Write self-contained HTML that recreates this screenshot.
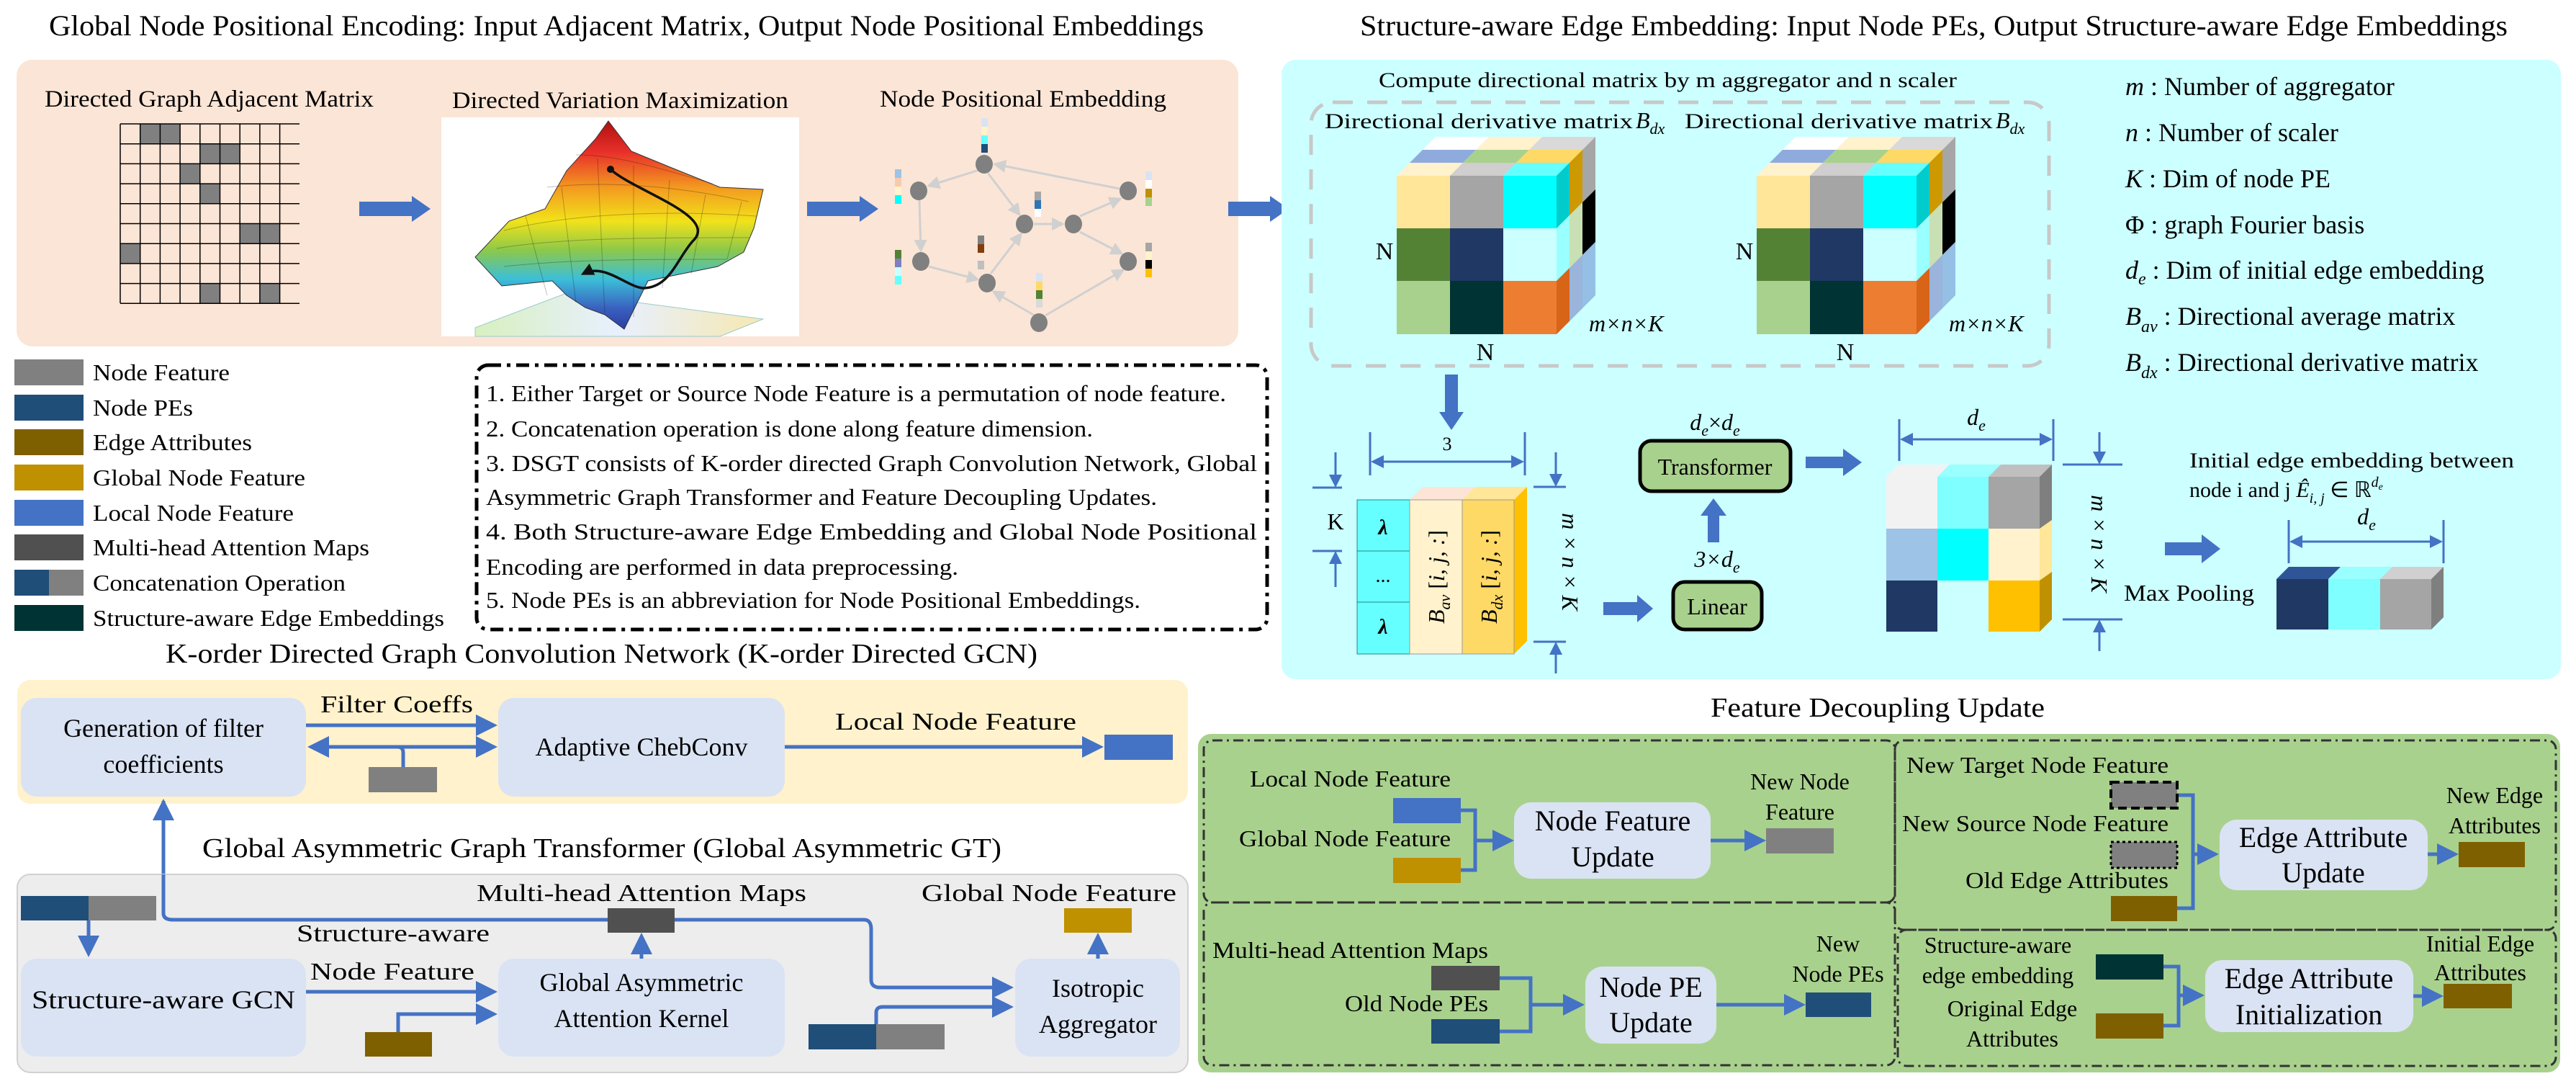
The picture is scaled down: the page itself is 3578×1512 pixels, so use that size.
<!DOCTYPE html>
<html><head><meta charset="utf-8"><style>
html,body{margin:0;padding:0;background:#fff}
svg{display:block}
text{font-family:"Liberation Serif",serif;fill:#000}
</style></head><body>
<svg width="3578" height="1512" viewBox="0 0 3578 1512" xmlns="http://www.w3.org/2000/svg">
<defs>
<marker id="ah" markerWidth="6" markerHeight="6" refX="5" refY="3" orient="auto" markerUnits="strokeWidth"><path d="M0,0 L6,3 L0,6 z" fill="#4472c4"/></marker>
<marker id="ahs" markerWidth="6" markerHeight="6" refX="5" refY="3" orient="auto-start-reverse" markerUnits="strokeWidth"><path d="M0,0 L6,3 L0,6 z" fill="#4472c4"/></marker>
<marker id="ag" markerWidth="6" markerHeight="6" refX="5" refY="3" orient="auto" markerUnits="strokeWidth"><path d="M0,0 L6,3 L0,6 z" fill="#d0d0d0"/></marker>
<marker id="ak" markerWidth="5" markerHeight="5" refX="4" refY="2.5" orient="auto" markerUnits="strokeWidth"><path d="M0,0 L5,2.5 L0,5 z" fill="#111"/></marker>
<linearGradient id="surf" x1="0" y1="0" x2="0" y2="1">
<stop offset="0" stop-color="#b01010"/><stop offset="0.15" stop-color="#e8302a"/><stop offset="0.32" stop-color="#f39a20"/><stop offset="0.48" stop-color="#f2e21a"/><stop offset="0.62" stop-color="#8dc84a"/><stop offset="0.76" stop-color="#3cbfd8"/><stop offset="0.9" stop-color="#3a60c0"/><stop offset="1" stop-color="#2a3fa0"/></linearGradient>
<linearGradient id="base" x1="0" y1="0" x2="1" y2="0"><stop offset="0" stop-color="#d8f0c0"/><stop offset="0.5" stop-color="#e8f0ff"/><stop offset="1" stop-color="#f6e8b0"/></linearGradient>
<g id="cube">
<!-- top face layers -->
<polygon points="1940,244 2014,244 2032,226 1958,226" fill="#fff2cc"/>
<polygon points="2014,244 2088,244 2106,226 2032,226" fill="#d0cece"/>
<polygon points="2088,244 2162,244 2180,226 2106,226" fill="#66ffff"/>
<polygon points="1958,226 2032,226 2050,208 1976,208" fill="#8faadc"/>
<polygon points="2032,226 2106,226 2124,208 2050,208" fill="#a9d18e"/>
<polygon points="2106,226 2180,226 2198,208 2124,208" fill="#ffd966"/>
<polygon points="1976,208 2050,208 2068,190 1994,190" fill="#ffffff"/>
<polygon points="2050,208 2124,208 2142,190 2068,190" fill="#fff2cc"/>
<polygon points="2124,208 2198,208 2216,190 2142,190" fill="#d9d9d9"/>
<!-- side -->
<polygon points="2162,244 2180,226 2180,299 2162,317" fill="#00cccc"/>
<polygon points="2162,317 2180,299 2180,372 2162,390" fill="#99ffff"/>
<polygon points="2162,390 2180,372 2180,446 2162,464" fill="#d86418"/>
<polygon points="2180,226 2198,208 2198,281 2180,299" fill="#cc9900"/>
<polygon points="2180,299 2198,281 2198,354 2180,372" fill="#c9dfb4"/>
<polygon points="2180,372 2198,354 2198,428 2180,446" fill="#9ab4dc"/>
<polygon points="2198,208 2216,190 2216,263 2198,281" fill="#a6a6a6"/>
<polygon points="2198,281 2216,263 2216,336 2198,354" fill="#000000"/>
<polygon points="2198,354 2216,336 2216,410 2198,428" fill="#95bfe4"/>
<!-- front -->
<rect x="1940" y="244" width="74" height="74" fill="#ffe699"/>
<rect x="2014" y="244" width="74" height="74" fill="#a5a5a5"/>
<rect x="2088" y="244" width="74" height="74" fill="#00ffff"/>
<rect x="1940" y="317" width="74" height="74" fill="#548235"/>
<rect x="2014" y="317" width="74" height="74" fill="#203864"/>
<rect x="2088" y="317" width="74" height="74" fill="#ccffff"/>
<rect x="1940" y="390" width="74" height="74" fill="#a9d18e"/>
<rect x="2014" y="390" width="74" height="74" fill="#003333"/>
<rect x="2088" y="390" width="74" height="74" fill="#ed7d31"/>
<text x="1923" y="360" font-size="34" text-anchor="middle">N</text>
<text x="2063" y="500" font-size="34" text-anchor="middle">N</text>
<text x="2207" y="460" font-size="32" font-style="italic">m×n×K</text>
</g>
</defs>

<!-- ============ TOP LEFT ============ -->
<text x="68" y="49" font-size="40" textLength="1604" lengthAdjust="spacingAndGlyphs">Global Node Positional Encoding: Input Adjacent Matrix, Output Node Positional Embeddings</text>
<rect x="23" y="83" width="1697" height="398" rx="22" fill="#fbe5d6"/>
<text x="62" y="148" font-size="33" textLength="457" lengthAdjust="spacingAndGlyphs">Directed Graph Adjacent Matrix</text>
<text x="628" y="150" font-size="33" textLength="467" lengthAdjust="spacingAndGlyphs">Directed Variation Maximization</text>
<text x="1222" y="148" font-size="33" textLength="398" lengthAdjust="spacingAndGlyphs">Node Positional Embedding</text>

<!-- grid -->
<g fill="#808080">
<rect x="194.7" y="172" width="55.4" height="27.7"/>
<rect x="277.8" y="199.7" width="55.4" height="27.7"/>
<rect x="250.1" y="227.4" width="27.7" height="27.7"/>
<rect x="277.8" y="255.1" width="27.7" height="27.7"/>
<rect x="333.2" y="310.5" width="55.4" height="27.7"/>
<rect x="167" y="338.2" width="27.7" height="27.7"/>
<rect x="277.8" y="393.6" width="27.7" height="27.7"/>
<rect x="360.9" y="393.6" width="27.7" height="27.7"/>
</g>
<g stroke="#000" stroke-width="1.5">
<path d="M167,172V421M194.7,172V421M222.4,172V421M250.1,172V421M277.8,172V421M305.5,172V421M333.2,172V421M360.9,172V421M388.6,172V421"/>
<path d="M167,172H416M167,199.7H416M167,227.4H416M167,255.1H416M167,282.8H416M167,310.5H416M167,338.2H416M167,365.9H416M167,393.6H416M167,421.3H416"/>
</g>

<!-- block arrows -->
<polygon points="499,280 572,280 572,272 598,290 572,308 572,300 499,300" fill="#4472c4"/>
<polygon points="1121,280 1194,280 1194,272 1220,290 1194,308 1194,300 1121,300" fill="#4472c4"/>
<polygon points="1706,280 1764,280 1764,272 1790,290 1764,308 1764,300 1706,300" fill="#4472c4"/>

<!-- surface plot -->
<rect x="613" y="163" width="497" height="304" fill="#fff"/>
<polygon points="660,455 787,407 1060,443 1000,467 660,467" fill="url(#base)" stroke="#9cc" stroke-width="1"/>
<polygon points="845,168 877,210 933,233 1000,260 1060,263 1047,317 1033,350 997,370 933,383 900,390 867,457 840,437 813,427 787,410 767,390 697,397 660,357 707,307 757,290 787,237 827,193" fill="url(#surf)" stroke="#333" stroke-width="1"/>
<g stroke="#000" stroke-opacity="0.25" stroke-width="1" fill="none">
<path d="M700,320 C780,300 900,290 1050,300M690,345 C780,330 900,330 1040,330M700,370 C790,360 900,360 1010,360M760,260 C850,250 950,260 1040,280M800,215 C860,215 920,235 990,255"/>
<path d="M730,300 L760,410M780,260 L800,420M830,220 L840,435M880,230 L880,440M930,250 L920,400M980,270 L960,380M1030,280 L1010,360"/>
</g>
<path d="M848,235 C880,265 1000,300 962,335 C940,360 930,400 893,400 C870,398 840,365 810,380" fill="none" stroke="#111" stroke-width="3.5" marker-end="url(#ak)"/>
<circle cx="848" cy="235" r="5" fill="#111"/>

<!-- graph -->
<g stroke="#d0d0d0" stroke-width="3" fill="none">
<line x1="1360" y1="236" x2="1290" y2="258" marker-end="url(#ag)"/>
<line x1="1555" y1="262" x2="1382" y2="228" marker-end="url(#ag)"/>
<line x1="1372" y1="240" x2="1416" y2="298" marker-end="url(#ag)"/>
<line x1="1436" y1="311" x2="1476" y2="311" marker-end="url(#ag)"/>
<line x1="1500" y1="300" x2="1556" y2="276" marker-end="url(#ag)"/>
<line x1="1277" y1="278" x2="1279" y2="348" marker-end="url(#ag)"/>
<line x1="1290" y1="370" x2="1358" y2="388" marker-end="url(#ag)"/>
<line x1="1376" y1="380" x2="1418" y2="325" marker-end="url(#ag)"/>
<line x1="1500" y1="322" x2="1558" y2="352" marker-end="url(#ag)"/>
<line x1="1437" y1="438" x2="1380" y2="405" marker-end="url(#ag)"/>
<line x1="1452" y1="438" x2="1560" y2="375" marker-end="url(#ag)"/>
</g>
<g fill="#808080">
<ellipse cx="1367" cy="228" rx="12" ry="13"/><ellipse cx="1276" cy="265" rx="12" ry="13"/><ellipse cx="1567" cy="265" rx="12" ry="13"/>
<ellipse cx="1423" cy="311" rx="12" ry="13"/><ellipse cx="1491" cy="311" rx="12" ry="13"/><ellipse cx="1279" cy="363" rx="12" ry="13"/>
<ellipse cx="1567" cy="363" rx="12" ry="13"/><ellipse cx="1371" cy="393" rx="12" ry="13"/><ellipse cx="1443" cy="448" rx="12" ry="13"/>
</g>
<g>
<rect x="1363" y="164" width="9" height="12" fill="#dae3f3"/><rect x="1363" y="176" width="9" height="12" fill="#fff2cc"/><rect x="1363" y="188" width="9" height="12" fill="#66ffff"/><rect x="1363" y="200" width="9" height="12" fill="#1f4e79"/>
<rect x="1243" y="235" width="9" height="12" fill="#9dc3e6"/><rect x="1243" y="247" width="9" height="12" fill="#f8cbad"/><rect x="1243" y="259" width="9" height="12" fill="#fff2cc"/><rect x="1243" y="271" width="9" height="12" fill="#00ffff"/>
<rect x="1591" y="238" width="9" height="12" fill="#dae3f3"/><rect x="1591" y="250" width="9" height="12" fill="#fff"/><rect x="1591" y="262" width="9" height="12" fill="#bf9000"/><rect x="1591" y="274" width="9" height="12" fill="#a9d18e"/>
<rect x="1437" y="266" width="9" height="12" fill="#a5a5a5"/><rect x="1437" y="278" width="9" height="12" fill="#2e75b6"/><rect x="1437" y="290" width="9" height="11" fill="#fff"/>
<rect x="1358" y="327" width="9" height="12" fill="#808080"/><rect x="1358" y="339" width="9" height="12" fill="#843c0c"/><rect x="1358" y="362" width="9" height="12" fill="#bfbfbf"/>
<rect x="1243" y="347" width="9" height="12" fill="#548235"/><rect x="1243" y="359" width="9" height="12" fill="#7f7fbf"/><rect x="1243" y="371" width="9" height="12" fill="#ccffff"/><rect x="1243" y="383" width="9" height="12" fill="#66ffff"/>
<rect x="1591" y="337" width="9" height="12" fill="#a5a5a5"/><rect x="1591" y="349" width="9" height="12" fill="#fff2cc"/><rect x="1591" y="361" width="9" height="12" fill="#000"/><rect x="1591" y="373" width="9" height="12" fill="#ffc000"/>
<rect x="1439" y="379" width="9" height="12" fill="#dae3f3"/><rect x="1439" y="391" width="9" height="12" fill="#ffd966"/><rect x="1439" y="403" width="9" height="12" fill="#548235"/><rect x="1439" y="415" width="9" height="12" fill="#d9d9d9"/>
</g>

<!-- legend -->
<g>
<rect x="20" y="499" width="96" height="36" fill="#808080"/>
<rect x="20" y="548" width="96" height="36" fill="#1f4e79"/>
<rect x="20" y="596" width="96" height="36" fill="#7f6000"/>
<rect x="20" y="645" width="96" height="36" fill="#bf9000"/>
<rect x="20" y="694" width="96" height="36" fill="#4472c4"/>
<rect x="20" y="742" width="96" height="36" fill="#505050"/>
<rect x="20" y="791" width="48" height="36" fill="#1f4e79"/><rect x="68" y="791" width="48" height="36" fill="#808080"/>
<rect x="20" y="840" width="96" height="36" fill="#003333"/>
</g>
<g font-size="32">
<text x="129" y="528" textLength="190" lengthAdjust="spacingAndGlyphs">Node Feature</text>
<text x="129" y="577" textLength="139" lengthAdjust="spacingAndGlyphs">Node PEs</text>
<text x="129" y="625" textLength="221" lengthAdjust="spacingAndGlyphs">Edge Attributes</text>
<text x="129" y="674" textLength="295" lengthAdjust="spacingAndGlyphs">Global Node Feature</text>
<text x="129" y="723" textLength="279" lengthAdjust="spacingAndGlyphs">Local Node Feature</text>
<text x="129" y="771" textLength="384" lengthAdjust="spacingAndGlyphs">Multi-head Attention Maps</text>
<text x="129" y="820" textLength="351" lengthAdjust="spacingAndGlyphs">Concatenation Operation</text>
<text x="129" y="869" textLength="488" lengthAdjust="spacingAndGlyphs">Structure-aware Edge Embeddings</text>
</g>

<!-- notes -->
<rect x="662" y="507" width="1098" height="367" rx="16" fill="none" stroke="#000" stroke-width="5" stroke-dasharray="18 8 5 8"/>
<g font-size="32">
<text x="675" y="557" textLength="1028" lengthAdjust="spacingAndGlyphs">1. Either Target or Source Node Feature is a permutation of node feature.</text>
<text x="675" y="606" textLength="843" lengthAdjust="spacingAndGlyphs">2. Concatenation operation is done along feature dimension.</text>
<text x="675" y="654" textLength="1071" lengthAdjust="spacingAndGlyphs">3. DSGT consists of K-order directed Graph Convolution Network, Global</text>
<text x="675" y="701" textLength="932" lengthAdjust="spacingAndGlyphs">Asymmetric Graph Transformer and Feature Decoupling Updates.</text>
<text x="675" y="749" textLength="1071" lengthAdjust="spacingAndGlyphs">4. Both Structure-aware Edge Embedding and Global Node Positional</text>
<text x="675" y="798" textLength="656" lengthAdjust="spacingAndGlyphs">Encoding are performed in data preprocessing.</text>
<text x="675" y="844" textLength="909" lengthAdjust="spacingAndGlyphs">5. Node PEs is an abbreviation for Node Positional Embeddings.</text>
</g>

<!-- ============ TOP RIGHT ============ -->
<text x="1889" y="49" font-size="40" textLength="1594" lengthAdjust="spacingAndGlyphs">Structure-aware Edge Embedding: Input Node PEs, Output Structure-aware Edge Embeddings</text>
<rect x="1780" y="83" width="1777" height="860" rx="20" fill="#ccffff"/>
<text x="1915" y="121" font-size="30" textLength="803" lengthAdjust="spacingAndGlyphs">Compute directional matrix by m aggregator and n scaler</text>
<rect x="1821" y="142" width="1025" height="366" rx="30" fill="none" stroke="#c8c8c8" stroke-width="5" stroke-dasharray="28 20"/>
<text x="1840" y="178" font-size="30" textLength="428" lengthAdjust="spacingAndGlyphs">Directional derivative matrix </text>
<text x="2272" y="178" font-size="32" font-style="italic">B<tspan font-size="22" dy="8">dx</tspan></text>
<text x="2340" y="178" font-size="30" textLength="428" lengthAdjust="spacingAndGlyphs">Directional derivative matrix </text>
<text x="2772" y="178" font-size="32" font-style="italic">B<tspan font-size="22" dy="8">dx</tspan></text>
<use href="#cube"/>
<use href="#cube" x="500"/>

<!-- variable legend -->
<g font-size="36">
<text x="2952" y="132"><tspan font-style="italic">m</tspan> : Number of aggregator</text>
<text x="2952" y="196"><tspan font-style="italic">n</tspan> : Number of scaler</text>
<text x="2952" y="260"><tspan font-style="italic">K</tspan> : Dim of node PE</text>
<text x="2952" y="324">Φ : graph Fourier basis</text>
<text x="2952" y="387"><tspan font-style="italic">d</tspan><tspan font-style="italic" font-size="24" dy="8">e</tspan><tspan dy="-8"> : Dim of initial edge embedding</tspan></text>
<text x="2952" y="451"><tspan font-style="italic">B</tspan><tspan font-style="italic" font-size="24" dy="10">av</tspan><tspan dy="-10"> : Directional average matrix</tspan></text>
<text x="2952" y="515"><tspan font-style="italic">B</tspan><tspan font-style="italic" font-size="24" dy="10">dx</tspan><tspan dy="-10"> : Directional derivative matrix</tspan></text>
</g>

<!-- down arrow -->
<polygon points="2007,520 2025,520 2025,572 2033,572 2016,597 1999,572 2007,572" fill="#4472c4"/>

<!-- small matrix -->
<g stroke="#4472c4" stroke-width="3" fill="none">
<line x1="1903" y1="600" x2="1903" y2="660"/><line x1="2118" y1="600" x2="2118" y2="660"/>
<line x1="1907" y1="641" x2="2114" y2="641" marker-start="url(#ahs)" marker-end="url(#ah)"/>
<line x1="1823" y1="677" x2="1864" y2="677"/><line x1="1823" y1="765" x2="1864" y2="765"/>
<line x1="1855" y1="628" x2="1855" y2="674" marker-end="url(#ah)"/>
<line x1="1855" y1="815" x2="1855" y2="768" marker-end="url(#ah)"/>
<line x1="2130" y1="676" x2="2175" y2="676"/><line x1="2130" y1="891" x2="2175" y2="891"/>
<line x1="2161" y1="628" x2="2161" y2="673" marker-end="url(#ah)"/>
<line x1="2161" y1="935" x2="2161" y2="894" marker-end="url(#ah)"/>
</g>
<text x="2010" y="625" font-size="26" text-anchor="middle">3</text>
<text x="1855" y="735" font-size="32" text-anchor="middle">K</text>
<polygon points="1885,694 1958,694 1976,676 1903,676" fill="#ccffff"/>
<polygon points="1958,694 2031,694 2049,676 1976,676" fill="#fce4d6"/>
<polygon points="2031,694 2103,694 2121,676 2049,676" fill="#ffe699"/>
<polygon points="2103,694 2121,676 2121,890 2103,908" fill="#ffc000"/>
<rect x="1885" y="694" width="73" height="214" fill="#66ffff" stroke="#1a8a8a" stroke-width="1"/>
<line x1="1885" y1="765" x2="1958" y2="765" stroke="#1a8a8a" stroke-width="1"/><line x1="1885" y1="836" x2="1958" y2="836" stroke="#1a8a8a" stroke-width="1"/>
<rect x="1958" y="694" width="73" height="214" fill="#fff2cc" stroke="#999" stroke-width="1"/>
<rect x="2031" y="694" width="72" height="214" fill="#ffd966" stroke="#999" stroke-width="1"/>
<text x="1921" y="742" font-size="30" text-anchor="middle" font-style="italic" font-weight="bold">λ</text>
<text x="1921" y="808" font-size="28" text-anchor="middle">...</text>
<text x="1921" y="880" font-size="30" text-anchor="middle" font-style="italic" font-weight="bold">λ</text>
<text transform="translate(2006,801) rotate(-90)" font-size="32" text-anchor="middle" font-style="italic">B<tspan font-size="22" dy="8">av</tspan><tspan dy="-8" font-style="normal"> [</tspan>i, j, :<tspan font-style="normal">]</tspan></text>
<text transform="translate(2079,801) rotate(-90)" font-size="32" text-anchor="middle" font-style="italic">B<tspan font-size="22" dy="8">dx</tspan><tspan dy="-8" font-style="normal"> [</tspan>i, j, :<tspan font-style="normal">]</tspan></text>
<text transform="translate(2170,780) rotate(90)" font-size="32" text-anchor="middle" font-style="italic">m × n × K</text>

<polygon points="2227,836 2274,836 2274,826 2296,845 2274,864 2274,854 2227,854" fill="#4472c4"/>
<rect x="2324" y="808" width="123" height="66" rx="16" fill="#a9d18e" stroke="#000" stroke-width="5"/>
<text x="2385" y="853" font-size="32" text-anchor="middle">Linear</text>
<text x="2385" y="787" font-size="32" text-anchor="middle" font-style="italic">3×d<tspan font-size="22" dy="8">e</tspan></text>
<polygon points="2372,753 2388,753 2388,716 2398,716 2380,692 2362,716 2372,716" fill="#4472c4"/>
<rect x="2278" y="612" width="209" height="70" rx="16" fill="#a9d18e" stroke="#000" stroke-width="5"/>
<text x="2382" y="659" font-size="32" text-anchor="middle">Transformer</text>
<text x="2382" y="597" font-size="32" text-anchor="middle" font-style="italic">d<tspan font-size="22" dy="8">e</tspan><tspan dy="-8" font-style="normal">×</tspan>d<tspan font-size="22" dy="8">e</tspan></text>
<polygon points="2508,634 2560,634 2560,623 2586,642 2560,661 2560,650 2508,650" fill="#4472c4"/>

<!-- big matrix -->
<g stroke="#4472c4" stroke-width="3" fill="none">
<line x1="2638" y1="582" x2="2638" y2="640"/><line x1="2852" y1="582" x2="2852" y2="640"/>
<line x1="2642" y1="610" x2="2848" y2="610" marker-start="url(#ahs)" marker-end="url(#ah)"/>
<line x1="2865" y1="645" x2="2948" y2="645"/><line x1="2865" y1="860" x2="2948" y2="860"/>
<line x1="2916" y1="600" x2="2916" y2="642" marker-end="url(#ah)"/>
<line x1="2916" y1="904" x2="2916" y2="863" marker-end="url(#ah)"/>
</g>
<text x="2745" y="590" font-size="32" text-anchor="middle" font-style="italic">d<tspan font-size="22" dy="8">e</tspan></text>
<polygon points="2620,662 2691,662 2708,645 2637,645" fill="#f2f2f2"/>
<polygon points="2691,662 2762,662 2779,645 2708,645" fill="#99ffff"/>
<polygon points="2762,662 2833,662 2850,645 2779,645" fill="#bfbfbf"/>
<polygon points="2833,662 2850,645 2850,722 2833,734" fill="#7f7f7f"/>
<polygon points="2833,734 2850,722 2850,794 2833,806" fill="#ffe699"/>
<polygon points="2833,806 2850,794 2850,860 2833,877" fill="#bf9000"/>
<rect x="2620" y="662" width="71" height="72" fill="#f2f2f2"/>
<rect x="2691" y="662" width="71" height="72" fill="#7fffff"/>
<rect x="2762" y="662" width="71" height="72" fill="#a5a5a5"/>
<rect x="2620" y="734" width="71" height="72" fill="#9dc3e6"/>
<rect x="2691" y="734" width="71" height="72" fill="#00ffff"/>
<rect x="2762" y="734" width="71" height="72" fill="#fff2cc"/>
<rect x="2620" y="806" width="71" height="71" fill="#203864"/>
<rect x="2691" y="806" width="71" height="71" fill="#ccffff"/>
<rect x="2762" y="806" width="71" height="71" fill="#ffc000"/>
<text transform="translate(2905,755) rotate(90)" font-size="32" text-anchor="middle" font-style="italic">m × n × K</text>
<text x="2950" y="834" font-size="32" textLength="181" lengthAdjust="spacingAndGlyphs">Max Pooling</text>
<polygon points="3007,753 3058,753 3058,742 3084,762 3058,782 3058,771 3007,771" fill="#4472c4"/>
<text x="3041" y="649" font-size="30" textLength="451" lengthAdjust="spacingAndGlyphs">Initial edge embedding between</text>
<text x="3041" y="690" font-size="30">node i and j  <tspan font-style="italic">Ê</tspan><tspan font-style="italic" font-size="20" dy="8">i, j</tspan><tspan dy="-8"> ∈ ℝ</tspan><tspan font-style="italic" font-size="20" dy="-14">d</tspan><tspan font-style="italic" font-size="14" dy="4">e</tspan></text>
<g stroke="#4472c4" stroke-width="3" fill="none">
<line x1="3179" y1="722" x2="3179" y2="782"/><line x1="3394" y1="722" x2="3394" y2="782"/>
<line x1="3183" y1="752" x2="3390" y2="752" marker-start="url(#ahs)" marker-end="url(#ah)"/>
</g>
<text x="3287" y="728" font-size="32" text-anchor="middle" font-style="italic">d<tspan font-size="22" dy="8">e</tspan></text>
<polygon points="3162,804 3234,804 3251,787 3179,787" fill="#2f5597"/>
<polygon points="3234,804 3306,804 3323,787 3251,787" fill="#99ffff"/>
<polygon points="3306,804 3377,804 3394,787 3323,787" fill="#d0d0d0"/>
<polygon points="3377,804 3394,787 3394,857 3377,874" fill="#7f7f7f"/>
<rect x="3162" y="804" width="72" height="70" fill="#203864"/>
<rect x="3234" y="804" width="72" height="70" fill="#7fffff"/>
<rect x="3306" y="804" width="71" height="70" fill="#a5a5a5"/>

<!-- ============ BOTTOM LEFT ============ -->
<text x="230" y="920" font-size="38" textLength="1211" lengthAdjust="spacingAndGlyphs">K-order Directed Graph Convolution Network (K-order Directed GCN)</text>
<rect x="24" y="944" width="1626" height="172" rx="18" fill="#fff2cc"/>
<rect x="29" y="969" width="396" height="137" rx="22" fill="#dae3f3"/>
<text x="227" y="1023" font-size="36" text-anchor="middle">Generation of filter</text>
<text x="227" y="1073" font-size="36" text-anchor="middle">coefficients</text>
<rect x="692" y="969" width="398" height="137" rx="22" fill="#dae3f3"/>
<text x="891" y="1049" font-size="36" text-anchor="middle">Adaptive ChebConv</text>
<text x="445" y="989" font-size="34" textLength="212" lengthAdjust="spacingAndGlyphs">Filter Coeffs</text>
<text x="1160" y="1013" font-size="34" textLength="335" lengthAdjust="spacingAndGlyphs">Local Node Feature</text>
<g stroke="#4472c4" stroke-width="5" fill="none">
<line x1="425" y1="1007" x2="686" y2="1007" marker-end="url(#ah)"/>
<line x1="432" y1="1037" x2="686" y2="1037" marker-start="url(#ahs)" marker-end="url(#ah)"/>
<path d="M560,1065 V1045 Q560,1037 552,1037"/>
<line x1="1090" y1="1037" x2="1528" y2="1037" marker-end="url(#ah)"/>
<path d="M227,1112 V1268 Q227,1277 240,1277 H1200 Q1210,1277 1210,1290 V1360 Q1210,1371 1222,1371 H1403" marker-end="url(#ah)"/>
<line x1="227" y1="1277" x2="227" y2="1114" marker-end="url(#ah)"/>
</g>
<rect x="512" y="1065" width="95" height="35" fill="#808080"/>
<rect x="1534" y="1020" width="95" height="35" fill="#4472c4"/>

<text x="281" y="1190" font-size="38" textLength="1110" lengthAdjust="spacingAndGlyphs">Global Asymmetric Graph Transformer (Global Asymmetric GT)</text>
<rect x="24" y="1214" width="1626" height="275" rx="18" fill="#ededed" stroke="#d0d0d0" stroke-width="2"/>
<!-- redraw connector part inside gray box -->
<g stroke="#4472c4" stroke-width="5" fill="none">
<path d="M227,1214 V1268 Q227,1277 240,1277 H1200 Q1210,1277 1210,1290 V1360 Q1210,1371 1222,1371 H1403" marker-end="url(#ah)"/>
<line x1="123" y1="1278" x2="123" y2="1324" marker-end="url(#ah)"/>
<line x1="425" y1="1377" x2="686" y2="1377" marker-end="url(#ah)"/>
<path d="M553,1433 V1408 H686" marker-end="url(#ah)"/>
<line x1="891" y1="1331" x2="891" y2="1300" marker-end="url(#ah)"/>
<line x1="1525" y1="1331" x2="1525" y2="1300" marker-end="url(#ah)"/>
<path d="M1217,1422 V1406 Q1217,1398 1226,1398 H1403" marker-end="url(#ah)"/>
</g>
<rect x="29" y="1244" width="94" height="34" fill="#1f4e79"/><rect x="123" y="1244" width="94" height="34" fill="#808080"/>
<rect x="29" y="1331" width="396" height="136" rx="22" fill="#dae3f3"/>
<text x="227" y="1400" font-size="36" text-anchor="middle" textLength="366" lengthAdjust="spacingAndGlyphs">Structure-aware GCN</text>
<rect x="692" y="1331" width="398" height="136" rx="22" fill="#dae3f3"/>
<text x="891" y="1376" font-size="36" text-anchor="middle">Global Asymmetric</text>
<text x="891" y="1426" font-size="36" text-anchor="middle">Attention Kernel</text>
<text x="412" y="1307" font-size="34" textLength="268" lengthAdjust="spacingAndGlyphs">Structure-aware</text>
<text x="431" y="1360" font-size="34" textLength="228" lengthAdjust="spacingAndGlyphs">Node Feature</text>
<rect x="507" y="1433" width="93" height="34" fill="#7f6000"/>
<text x="662" y="1251" font-size="34" textLength="458" lengthAdjust="spacingAndGlyphs">Multi-head Attention Maps</text>
<rect x="844" y="1261" width="93" height="34" fill="#505050"/>
<text x="1280" y="1251" font-size="34" textLength="354" lengthAdjust="spacingAndGlyphs">Global Node Feature</text>
<rect x="1478" y="1261" width="94" height="34" fill="#bf9000"/>
<rect x="1410" y="1331" width="229" height="136" rx="22" fill="#dae3f3"/>
<text x="1525" y="1384" font-size="36" text-anchor="middle">Isotropic</text>
<text x="1525" y="1434" font-size="36" text-anchor="middle">Aggregator</text>
<rect x="1123" y="1422" width="94" height="35" fill="#1f4e79"/><rect x="1217" y="1422" width="95" height="35" fill="#808080"/>

<!-- ============ BOTTOM RIGHT ============ -->
<text x="2376" y="995" font-size="38" textLength="464" lengthAdjust="spacingAndGlyphs">Feature Decoupling Update</text>
<rect x="1664" y="1019" width="1892" height="470" rx="18" fill="#a9d18e"/>
<g fill="none" stroke="#333" stroke-width="3" stroke-dasharray="14 6 3 6">
<rect x="1672" y="1028" width="960" height="225" rx="12"/>
<rect x="1672" y="1253" width="960" height="226" rx="12"/>
<rect x="2632" y="1028" width="918" height="263" rx="12"/>
<rect x="2636" y="1291" width="914" height="189" rx="12"/>
</g>
<g stroke="#4472c4" stroke-width="5" fill="none">
<path d="M2029,1125 H2049 V1208 H2029"/>
<line x1="2049" y1="1167" x2="2098" y2="1167" marker-end="url(#ah)"/>
<line x1="2376" y1="1167" x2="2448" y2="1167" marker-end="url(#ah)"/>
<path d="M2083,1358 H2126 V1432 H2083"/>
<line x1="2126" y1="1395" x2="2196" y2="1395" marker-end="url(#ah)"/>
<line x1="2384" y1="1395" x2="2503" y2="1395" marker-end="url(#ah)"/>
<path d="M3024,1104 H3046 V1261 H3024"/>
<line x1="3046" y1="1186" x2="3077" y2="1186" marker-end="url(#ah)"/>
<line x1="3372" y1="1186" x2="3410" y2="1186" marker-end="url(#ah)"/>
<path d="M3005,1342 H3026 V1424 H3005"/>
<line x1="3026" y1="1382" x2="3057" y2="1382" marker-end="url(#ah)"/>
<line x1="3352" y1="1383" x2="3389" y2="1383" marker-end="url(#ah)"/>
</g>
<g font-size="32">
<text x="1736" y="1092" textLength="279" lengthAdjust="spacingAndGlyphs">Local Node Feature</text>
<text x="1721" y="1175" textLength="294" lengthAdjust="spacingAndGlyphs">Global Node Feature</text>
<text x="2500" y="1096" text-anchor="middle">New Node</text>
<text x="2500" y="1138" text-anchor="middle">Feature</text>
<text x="1684" y="1330" textLength="383" lengthAdjust="spacingAndGlyphs">Multi-head Attention Maps</text>
<text x="1868" y="1404" textLength="199" lengthAdjust="spacingAndGlyphs">Old Node PEs</text>
<text x="2553" y="1321" text-anchor="middle">New</text>
<text x="2553" y="1363" text-anchor="middle">Node PEs</text>
<text x="2648" y="1073" textLength="364" lengthAdjust="spacingAndGlyphs">New Target Node Feature</text>
<text x="2642" y="1154" textLength="370" lengthAdjust="spacingAndGlyphs">New Source Node Feature</text>
<text x="2730" y="1233" textLength="282" lengthAdjust="spacingAndGlyphs">Old Edge Attributes</text>
<text x="3465" y="1115" text-anchor="middle">New Edge</text>
<text x="3465" y="1157" text-anchor="middle">Attributes</text>
<text x="2775" y="1323" text-anchor="middle">Structure-aware</text>
<text x="2775" y="1365" text-anchor="middle">edge embedding</text>
<text x="2795" y="1411" text-anchor="middle">Original Edge</text>
<text x="2795" y="1453" text-anchor="middle">Attributes</text>
<text x="3445" y="1321" text-anchor="middle">Initial Edge</text>
<text x="3445" y="1361" text-anchor="middle">Attributes</text>
</g>
<rect x="1935" y="1108" width="94" height="35" fill="#4472c4"/>
<rect x="1935" y="1191" width="94" height="35" fill="#bf9000"/>
<rect x="2103" y="1114" width="273" height="106" rx="24" fill="#dae3f3"/>
<text x="2240" y="1153" font-size="40" text-anchor="middle">Node Feature</text>
<text x="2240" y="1203" font-size="40" text-anchor="middle">Update</text>
<rect x="2453" y="1150" width="94" height="35" fill="#808080"/>
<rect x="1988" y="1341" width="95" height="34" fill="#505050"/>
<rect x="1988" y="1415" width="95" height="34" fill="#1f4e79"/>
<rect x="2202" y="1342" width="182" height="107" rx="24" fill="#dae3f3"/>
<text x="2293" y="1384" font-size="40" text-anchor="middle">Node PE</text>
<text x="2293" y="1433" font-size="40" text-anchor="middle">Update</text>
<rect x="2508" y="1378" width="91" height="34" fill="#1f4e79"/>
<rect x="2932" y="1086" width="92" height="36" fill="#808080" stroke="#000" stroke-width="4" stroke-dasharray="12 6"/>
<rect x="2932" y="1169" width="92" height="36" fill="#808080" stroke="#000" stroke-width="3" stroke-dasharray="4 4"/>
<rect x="2932" y="1244" width="92" height="35" fill="#7f6000"/>
<rect x="3083" y="1138" width="289" height="98" rx="24" fill="#dae3f3"/>
<text x="3227" y="1176" font-size="40" text-anchor="middle">Edge Attribute</text>
<text x="3227" y="1225" font-size="40" text-anchor="middle">Update</text>
<rect x="3415" y="1169" width="92" height="35" fill="#7f6000"/>
<rect x="2911" y="1325" width="94" height="35" fill="#003333"/>
<rect x="2911" y="1407" width="94" height="35" fill="#7f6000"/>
<rect x="3063" y="1333" width="289" height="100" rx="24" fill="#dae3f3"/>
<text x="3207" y="1372" font-size="40" text-anchor="middle">Edge Attribute</text>
<text x="3207" y="1422" font-size="40" text-anchor="middle">Initialization</text>
<rect x="3394" y="1366" width="95" height="34" fill="#7f6000"/>
</svg>
</body></html>
